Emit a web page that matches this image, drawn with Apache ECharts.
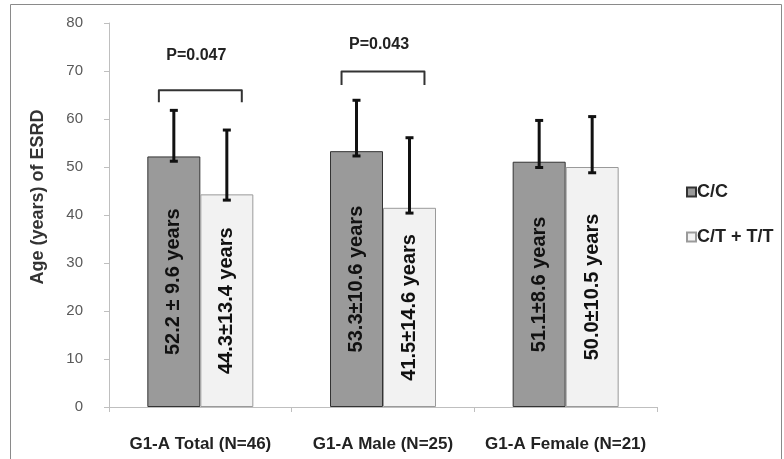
<!DOCTYPE html>
<html>
<head>
<meta charset="utf-8">
<script src="https://cdn.jsdelivr.net/npm/echarts@6/dist/echarts.min.js"></script>
<style>
html,body{margin:0;padding:0;background:#fff;}
#c{width:784px;height:459px;}
</style>
</head>
<body>
<div id="c"></div>
<script>
// ---- data ----
const categories = ['G1-A Total (N=46)', 'G1-A Male (N=25)', 'G1-A Female (N=21)'];
const seriesNames = ['C/C', 'C/T + T/T'];
const ccMeans = [52.2, 53.3, 51.1];
const ctMeans = [44.3, 41.5, 50.0];
const ccErrHigh = [61.8, 63.9, 59.7];
const ctErrHigh = [57.7, 56.1, 60.5];
const ccErrLow = [51.2, 52.3, 49.9];
const ctErrLow = [43.1, 40.4, 48.8];
const ccLabels = ['52.2 \u00b1 9.6 years', '53.3\u00b110.6 years', '51.1\u00b18.6 years'];
const ctLabels = ['44.3\u00b113.4 years', '41.5\u00b114.6 years', '50.0\u00b110.5 years'];
const bracketCats = [0, 1];
const bracketTop = [66.0, 69.9];
const bracketEnd = [63.5, 67.1];
const pTexts = ['P=0.047', 'P=0.043'];
const pTextY = [73.3, 75.4];
const yTicks = {min: 0, max: 80, interval: 10};

const FONT = '"Liberation Sans", Arial, sans-serif';
const BAR_W = 53;

const errData = [];
for (let i = 0; i < categories.length; i++) {
  errData.push([i, ccErrLow[i], ccErrHigh[i], -1]);
  errData.push([i, ctErrLow[i], ctErrHigh[i], 1]);
}
const bracketData = bracketCats.map((c, i) => [c, bracketTop[i], bracketEnd[i], pTextY[i], i]);

const chart = echarts.init(document.getElementById('c'), null, {renderer: 'canvas'});
chart.setOption({
  backgroundColor: '#fff',
  animation: false,
  grid: {left: 109, right: 127, top: 23, bottom: 52},
  legend: {
    orient: 'vertical',
    left: 681, top: 178,
    itemWidth: 9, itemHeight: 9, itemGap: 27,
    icon: 'rect',
    textStyle: {fontFamily: FONT, fontWeight: 'bold', fontSize: 18, color: '#222', padding: [0,0,0,-4]},
    data: seriesNames
  },
  xAxis: {
    type: 'category',
    data: categories,
    axisLine: {lineStyle: {color: '#bfbfbf', width: 1}},
    axisTick: {show: true, length: 5, lineStyle: {color: '#bfbfbf'}},
    axisLabel: {interval: 0, fontFamily: FONT, fontWeight: 'bold', fontSize: 17, color: '#222', margin: 29}
  },
  yAxis: {
    type: 'value',
    min: yTicks.min, max: yTicks.max, interval: yTicks.interval,
    axisLine: {show: true, lineStyle: {color: '#bfbfbf', width: 1}},
    axisTick: {show: true, length: 5, lineStyle: {color: '#bfbfbf'}},
    splitLine: {show: false},
    axisLabel: {fontFamily: FONT, fontSize: 15, color: '#595959', margin: 26}
  },
  graphic: [
    {type: 'rect', shape: {x: 10.5, y: 4.5, width: 771, height: 470}, style: {fill: 'none', stroke: '#8a8a8a', lineWidth: 1}, silent: true},
    {type: 'text', x: 38, y: 197, rotation: Math.PI / 2,
     style: {text: 'Age (years) of ESRD', fontFamily: FONT, fontWeight: 'bold', fontSize: 18, fill: '#333', align: 'center', verticalAlign: 'middle'}}
  ],
  series: [
    {
      name: seriesNames[0], type: 'bar', data: ccMeans, barWidth: BAR_W, barGap: '0%',
      itemStyle: {color: '#9a9a9a', borderColor: '#333', borderWidth: 1},
      label: {show: true, position: 'inside', rotate: 90, fontFamily: FONT, fontWeight: 'bold', fontSize: 20, color: '#111',
              formatter: p => ccLabels[p.dataIndex]}
    },
    {
      name: seriesNames[1], type: 'bar', data: ctMeans, barWidth: BAR_W, barGap: '0%',
      itemStyle: {color: '#f2f2f2', borderColor: '#9a9a9a', borderWidth: 1},
      label: {show: true, position: 'inside', rotate: 90, fontFamily: FONT, fontWeight: 'bold', fontSize: 20, color: '#111',
              formatter: p => ctLabels[p.dataIndex]}
    },
    {
      type: 'custom', name: 'err', data: errData, z: 10, silent: true,
      renderItem: function (params, api) {
        const cat = api.value(0);
        const lo = api.coord([cat, api.value(1)]);
        const hi = api.coord([cat, api.value(2)]);
        const side = api.value(3);
        const x = lo[0] + side * BAR_W / 2;
        const cw = 4;
        const st = {stroke: '#111', lineWidth: 3};
        return {type: 'group', children: [
          {type: 'line', shape: {x1: x, y1: lo[1], x2: x, y2: hi[1]}, style: st},
          {type: 'line', shape: {x1: x - cw, y1: hi[1], x2: x + cw, y2: hi[1]}, style: st},
          {type: 'line', shape: {x1: x - cw, y1: lo[1], x2: x + cw, y2: lo[1]}, style: st}
        ]};
      }
    },
    {
      type: 'custom', name: 'bracket', data: bracketData, z: 10, silent: true,
      renderItem: function (params, api) {
        const cat = api.value(0);
        const top = api.coord([cat, api.value(1)]);
        const end = api.coord([cat, api.value(2)]);
        const txt = api.coord([cat, api.value(3)]);
        const band = api.size([1, 0])[0];
        const hw = band * 0.227;
        const cx = top[0];
        return {type: 'group', children: [
          {type: 'polyline', shape: {points: [[cx - hw, end[1]], [cx - hw, top[1]], [cx + hw, top[1]], [cx + hw, end[1]]]},
           style: {stroke: '#333', lineWidth: 2, fill: 'none', lineJoin: 'round'}},
          {type: 'text', x: cx - 4, y: txt[1],
           style: {text: pTexts[api.value(4)], fontFamily: FONT, fontWeight: 'bold', fontSize: 16, fill: '#222', align: 'center', verticalAlign: 'middle'}}
        ]};
      }
    }
  ]
});
</script>
</body>
</html>
